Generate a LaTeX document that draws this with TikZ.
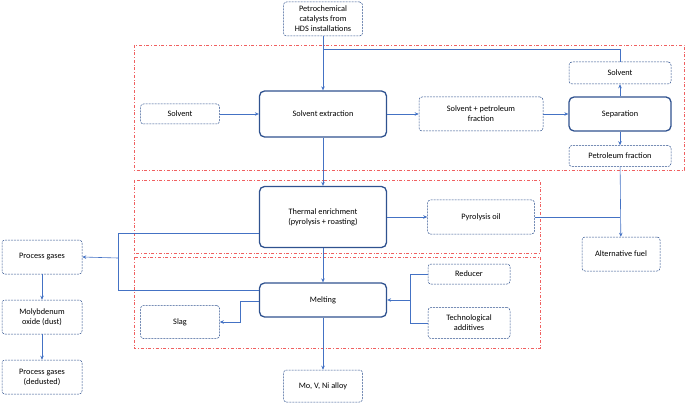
\documentclass[tikz,border=0pt]{standalone}
\usepackage{fontspec}
\setmainfont{Carlito}
\usetikzlibrary{arrows.meta}
\definecolor{ln}{HTML}{4472C4}
\definecolor{bd}{HTML}{2F528F}
\definecolor{rd}{HTML}{F06060}
\begin{document}
\begin{tikzpicture}[x=1pt,y=-1pt,
 minor/.style={draw=bd,dash pattern=on 2pt off 1pt,line width=0.5pt,rounded corners=3pt,align=center,font=\fontsize{8.3}{10}\selectfont,inner sep=0pt},
 major/.style={draw=bd,line width=1.3pt,rounded corners=5pt,align=center,font=\fontsize{8.3}{10}\selectfont,inner sep=0pt},
 ar/.style={draw=ln,line width=0.6pt,-{Stealth[length=4pt,width=3.5pt]}},
 pl/.style={draw=ln,line width=0.6pt},
 reg/.style={draw=rd,line width=0.5pt,dash dot}]
\useasboundingbox (0,0) rectangle (685,406);
\draw[reg] (134,45) rectangle (684,170);
\draw[reg] (134,180) rectangle (540,253);
\draw[reg] (134,257) rectangle (540,348);
\node[minor,minimum width=79pt,minimum height=34pt] (pc) at (323,19) {Petrochemical\\catalysts from\\HDS installations};
\node[minor,minimum width=79pt,minimum height=20pt] (sl) at (180,114) {Solvent};
\node[major,minimum width=127pt,minimum height=46pt] (se) at (323,114) {Solvent extraction};
\node[minor,minimum width=124pt,minimum height=34pt] (sp) at (481,114) {Solvent + petroleum\\fraction};
\node[major,minimum width=102pt,minimum height=34pt] (sep) at (620,114) {Separation};
\node[minor,minimum width=102pt,minimum height=22pt] (sr) at (620,73) {Solvent};
\node[minor,minimum width=102pt,minimum height=21pt] (pf) at (620,156) {Petroleum fraction};
\node[major,minimum width=127pt,minimum height=61pt] (te) at (323,217) {Thermal enrichment\\(pyrolysis + roasting)};
\node[minor,minimum width=107pt,minimum height=34pt] (po) at (481,217) {Pyrolysis oil};
\node[minor,minimum width=78pt,minimum height=34pt] (af) at (621,254) {Alternative fuel};
\node[major,minimum width=127pt,minimum height=34pt] (me) at (323,300) {Melting};
\node[minor,minimum width=82pt,minimum height=20pt] (re) at (469,274) {Reducer};
\node[minor,minimum width=82pt,minimum height=31pt] (ta) at (469,323) {Technological\\additives};
\node[minor,minimum width=79pt,minimum height=33pt] (sg) at (180,322) {Slag};
\node[minor,minimum width=79pt,minimum height=32pt] (mo) at (323,386) {Mo, V, Ni alloy};
\node[minor,minimum width=80pt,minimum height=34pt] (pg) at (42,257) {Process gases};
\node[minor,minimum width=80pt,minimum height=34pt] (mx) at (42,317) {Molybdenum\\oxide (dust)};
\node[minor,minimum width=80pt,minimum height=34pt] (pd) at (42,377) {Process gases\\(dedusted)};
\coordinate (j1) at (323,49);
\coordinate (j2) at (118,258);
\coordinate (j3) at (410,300);
\coordinate (j4) at (620,217);
\draw[ar] (pc) -- (se);
\draw[pl] (j1) -| (sr.north);
\draw[ar] (sl) -- (se);
\draw[ar] (se) -- (sp);
\draw[ar] (sp) -- (sep);
\draw[ar] (sep) -- (sr);
\draw[ar] (sep) -- (pf);
\draw[ar] (pf) -- (af);
\draw[pl] (po.east) -- (j4);
\draw[ar] (se) -- (te);
\draw[ar] (te) -- (po);
\draw[ar] (te) -- (me);
\draw[pl] (te.west |- 0,233) -| (118,290) -- (me.west |- 0,290);
\draw[ar] (j2) -- (pg.east);
\draw[ar] (me.west |- 0,301) -| (240,322) -- (sg.east);
\draw[pl] (re.west) -| (410,323) -- (ta.west);
\draw[ar] (j3) -- (me.east);
\draw[ar] (me) -- (mo);
\draw[ar] (pg) -- (mx);
\draw[ar] (mx) -- (pd);
\end{tikzpicture}
\end{document}
